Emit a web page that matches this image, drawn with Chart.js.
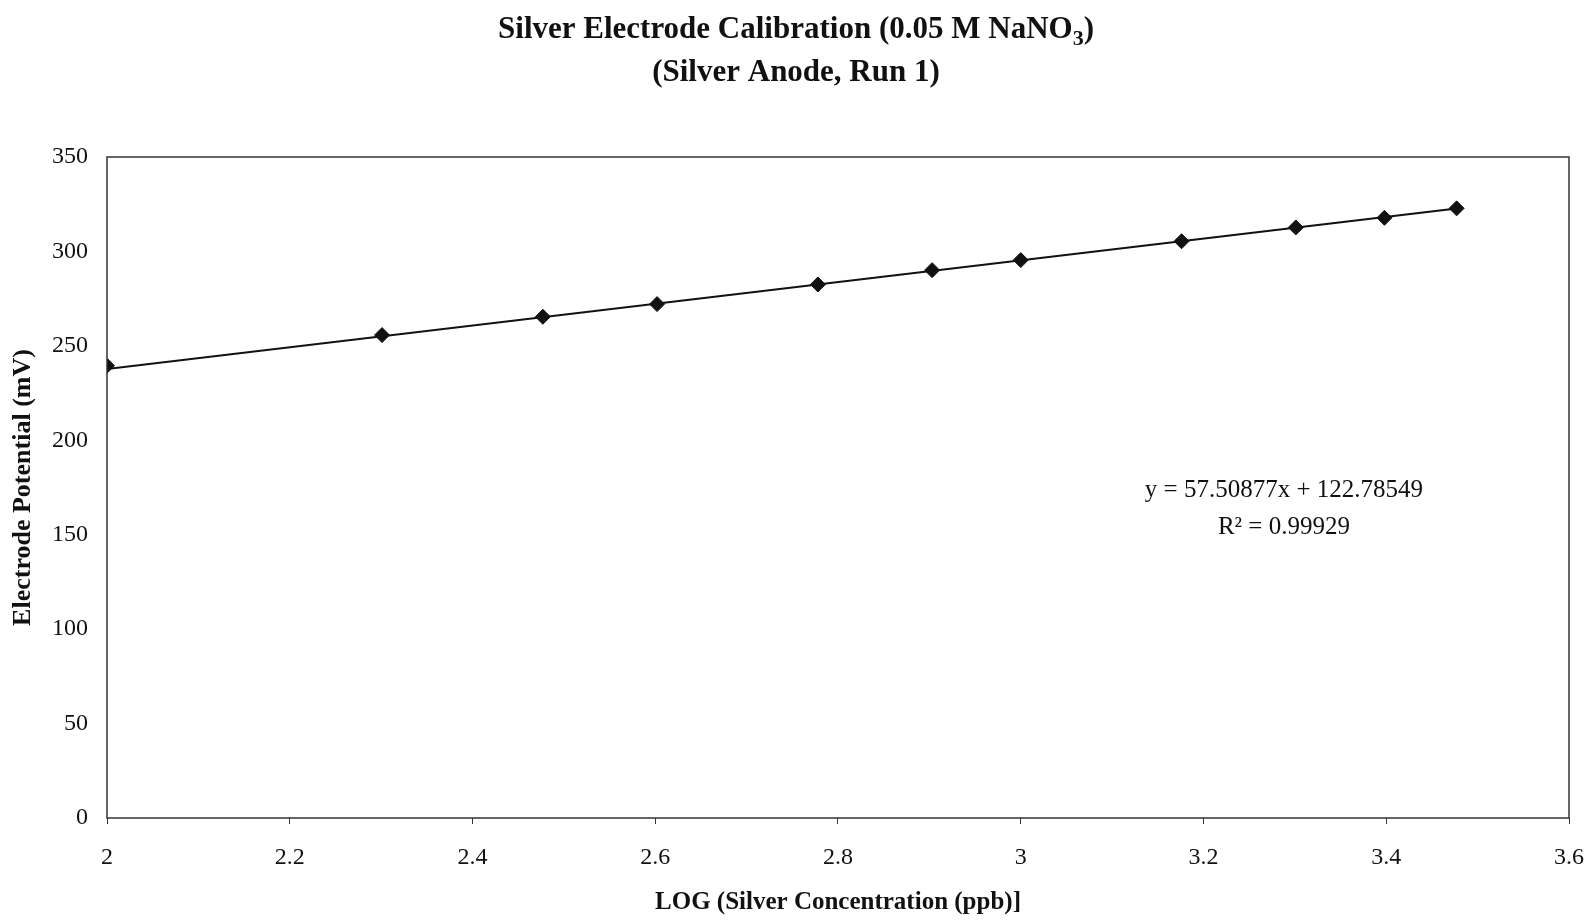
<!DOCTYPE html>
<html>
<head>
<meta charset="utf-8">
<script src="https://cdn.jsdelivr.net/npm/chart.js@4.4.1/dist/chart.umd.min.js"></script>
<style>
  html, body { margin: 0; padding: 0; background: #fff; }
  canvas { display: block; }
</style>
</head>
<body>
<canvas id="calChart" width="1588" height="922"></canvas>
<script>
// LOG(silver concentration in ppb) and measured electrode potential (mV)
const logConc = [2, 2.301, 2.477, 2.602, 2.778, 2.903, 3, 3.176, 3.301, 3.398, 3.477];
const potential = [239.5, 255.7, 265.4, 272.1, 282.5, 290.1, 295.4, 305.4, 312.7, 317.8, 322.8];
const yTicks = [0, 50, 100, 150, 200, 250, 300, 350];
const xTicks = [2, 2.2, 2.4, 2.6, 2.8, 3, 3.2, 3.4, 3.6];

// trendline reported on the chart
const slope = 57.50877;
const intercept = 122.78549;
const rSquared = "0.99929";

const serif = "'Liberation Serif', 'Times New Roman', serif";
const ink = "#111";

const trendPts = [logConc[0], logConc[logConc.length - 1]].map((x) => ({ x: x, y: slope * x + intercept }));

// frame round the plot area, equation text, two line title
const extrasPlugin = {
  id: "extras",
  afterDraw(chart) {
    const { ctx, chartArea: a, scales } = chart;
    ctx.save();
    ctx.strokeStyle = "#333";
    ctx.lineWidth = 1.5;
    ctx.strokeRect(a.left, a.top, a.right - a.left, a.bottom - a.top);

    ctx.fillStyle = ink;
    ctx.font = "25px " + serif;
    ctx.textAlign = "center";
    ctx.textBaseline = "middle";
    const ex = scales.x.getPixelForValue(3.288);
    ctx.fillText("y = " + slope + "x + " + intercept, ex, scales.y.getPixelForValue(173.5));
    ctx.fillText("R\u00B2 = " + rSquared, ex, scales.y.getPixelForValue(154));

    // title, with the subscript 3 of NaNO3
    ctx.textBaseline = "alphabetic";
    const big = "bold 31px " + serif;
    const small = "bold 22px " + serif;
    const main = "Silver Electrode Calibration (0.05 M NaNO";
    ctx.font = big;
    const w1 = ctx.measureText(main).width;
    const w3 = ctx.measureText(")").width;
    ctx.font = small;
    const w2 = ctx.measureText("3").width;
    const cx = chart.width / 2 + 2;
    const x0 = cx - (w1 + w2 + w3) / 2;
    ctx.textAlign = "left";
    ctx.font = big;
    ctx.fillText(main, x0, 38);
    ctx.fillText(")", x0 + w1 + w2, 38);
    ctx.font = small;
    ctx.fillText("3", x0 + w1, 45);
    ctx.font = big;
    ctx.textAlign = "center";
    ctx.fillText("(Silver Anode, Run 1)", cx, 81);
    ctx.restore();
  },
};

new Chart(document.getElementById("calChart"), {
  type: "scatter",
  data: {
    datasets: [
      {
        label: "Trend",
        data: trendPts,
        showLine: true,
        borderColor: ink,
        borderWidth: 2,
        pointRadius: 0,
        order: 2,
      },
      {
        label: "Calibration",
        data: logConc.map((x, i) => ({ x: x, y: potential[i] })),
        pointStyle: "rectRot",
        pointRadius: 7.5,
        backgroundColor: ink,
        borderColor: ink,
        borderWidth: 1,
        order: 1,
      },
    ],
  },
  options: {
    responsive: false,
    animation: false,
    layout: { padding: { top: 157, right: 19, left: 0, bottom: 0 } },
    plugins: {
      legend: { display: false },
      tooltip: { enabled: false },
      title: { display: false },
    },
    scales: {
      x: {
        type: "linear",
        min: 2,
        max: 3.6,
        afterBuildTicks: (s) => { s.ticks = xTicks.map((v) => ({ value: v })); },
        afterFit: (s) => {
          s.height = 104;
          s.paddingLeft = 0;
          s.paddingRight = 0;
        },
        grid: { drawOnChartArea: false, drawTicks: true, tickLength: 6, color: "#333" },
        border: { display: false },
        ticks: {
          color: ink,
          font: { family: serif, size: 24 },
          padding: 19,
          maxRotation: 0,
          callback: (v) => String(Math.round(v * 10) / 10),
        },
        title: {
          display: true,
          text: "LOG (Silver Concentration (ppb)]",
          color: ink,
          font: { family: serif, size: 25, weight: "bold" },
          padding: { top: 0, bottom: 4 },
        },
      },
      y: {
        min: 0,
        max: 350,
        afterBuildTicks: (s) => { s.ticks = yTicks.map((v) => ({ value: v })); },
        afterFit: (s) => { s.width = 107; },
        grid: { display: false, drawTicks: false },
        border: { display: false },
        ticks: { color: ink, font: { family: serif, size: 24 }, padding: 19 },
        title: {
          display: true,
          text: "Electrode Potential (mV)",
          color: ink,
          font: { family: serif, size: 26, weight: "bold" },
          padding: { top: 8, bottom: 0 },
        },
      },
    },
  },
  plugins: [extrasPlugin],
});
</script>
</body>
</html>
